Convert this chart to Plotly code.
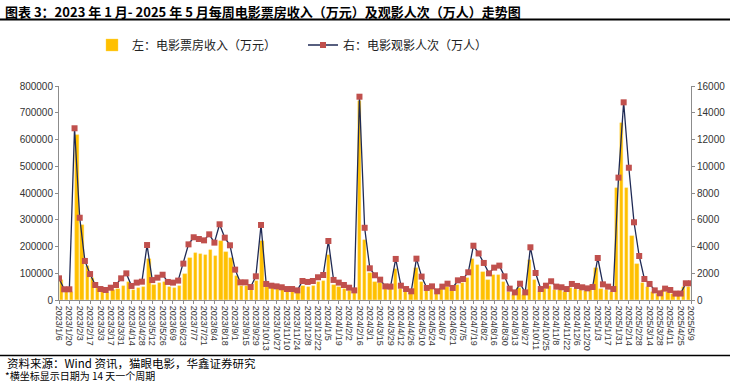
import plotly.graph_objects as go
import pandas as pd

# ---------------- data ----------------
weeks = [f"{d.year}/{d.month}/{d.day}" for d in pd.date_range("2023-01-06", periods=123, freq="7D")]

box_office = [  # 左：电影票房收入（万元）
    75000, 31000, 31000, 615000, 280000, 127000, 81000, 46000, 31000, 27000,
    37000, 41000, 54000, 67000, 37000, 46000, 50000, 153000, 56000, 62000,
    67000, 48000, 46000, 52000, 98000, 158000, 177000, 173000, 167000, 187000,
    166000, 220000, 181000, 158000, 90000, 54000, 54000, 36000, 71000, 220000,
    48000, 44000, 41000, 40000, 35000, 35000, 29000, 53000, 50000, 53000,
    66000, 72000, 168000, 56000, 50000, 41000, 35000, 27000, 745000, 224000,
    100000, 68000, 62000, 41000, 41000, 115000, 43000, 31000, 25000, 118000,
    68000, 34000, 41000, 25000, 41000, 47000, 34000, 56000, 62000, 81000,
    153000, 131000, 103000, 75000, 93000, 93000, 66000, 31000, 19000, 44000,
    19000, 150000, 75000, 29000, 41000, 52000, 37000, 37000, 30000, 45000,
    41000, 37000, 34000, 37000, 121000, 42000, 37000, 30000, 420000, 663000,
    420000, 240000, 133000, 65000, 50000, 31000, 22000, 37000, 31000, 22000,
    22000, 50000, 50000,
]

attendance = [  # 右：电影观影人次（万人）
    1620, 800, 800, 12840, 6150, 2920, 1940, 1120, 820, 750,
    920, 1120, 1620, 1990, 1050, 1300, 1370, 4110, 1490, 1670,
    1890, 1350, 1300, 1450, 2720, 4160, 4690, 4560, 4460, 4910,
    4290, 5660, 4660, 4090, 2270, 1320, 1320, 970, 1770, 5610,
    1200, 1070, 1020, 950, 820, 820, 720, 1420, 1350, 1420,
    1700, 1870, 4410, 1500, 1300, 1120, 920, 720, 15200, 5400,
    2370, 1850, 1520, 1020, 1000, 3070, 1070, 820, 650, 3090,
    1750, 900, 1020, 650, 1000, 1220, 900, 1470, 1570, 2070,
    4060, 3480, 2770, 1990, 2420, 2570, 1770, 850, 570, 1220,
    570, 3940, 2020, 820, 1070, 1400, 1000, 950, 820, 1200,
    1050, 950, 870, 970, 3140, 1170, 1000, 820, 9150, 14780,
    9890, 5810, 3290, 1570, 1200, 720, 500, 850, 750, 480,
    480, 1250, 1250,
]

tick_labels = weeks[::2]

title_text = "图表 3：2023 年 1 月- 2025 年 5 月每周电影票房收入（万元）及观影人次（万人）走势图"
source_text = "资料来源：Wind 资讯，猫眼电影，华鑫证券研究"
note_text = "*横坐标显示日期为 14 天一个周期"

# ---------------- figure ----------------
W, H = 730, 382
L, R, T, B = 59, 39, 86, 82
pw, ph = W - L - R, H - T - B

def px(x):
    return (x - L) / pw

def py(y):
    return (H - B - y) / ph

idx = list(range(len(weeks)))

fig = go.Figure()
fig.add_trace(go.Bar(
    x=idx, y=box_office, name="左：电影票房收入（万元）",
    marker=dict(color="#FFC000", line=dict(color="#FFD54F", width=0.4)),
    width=0.64, xaxis="x", yaxis="y",
))
fig.add_trace(go.Scatter(
    x=idx, y=attendance, name="右：电影观影人次（万人）",
    mode="lines+markers",
    line=dict(color="#1F2A55", width=1.3),
    marker=dict(symbol="square", size=6, color="#C0504D"),
    xaxis="x2", yaxis="y2",
))

axis_font = dict(family="Liberation Sans, Arial", size=10, color="#333333")

fig.update_layout(
    width=W, height=H,
    margin=dict(l=L, r=R, t=T, b=B, autoexpand=False),
    paper_bgcolor="white", plot_bgcolor="white",
    bargap=0,
    showlegend=True,
    legend=dict(
        orientation="h", x=px(92), y=py(45), xanchor="left", yanchor="middle",
        font=dict(family="Noto Sans CJK SC", size=12, color="#222222"),
        entrywidth=166, entrywidthmode="pixels",
        itemwidth=30, bgcolor="rgba(0,0,0,0)", borderwidth=0,
    ),
    xaxis=dict(
        range=[-0.5, len(weeks) - 0.5], showticklabels=False, ticks="",
        showline=False, showgrid=False, zeroline=False, fixedrange=True,
    ),
    xaxis2=dict(
        overlaying="x", anchor="y2", side="bottom",
        range=[0, len(weeks) - 1],
        tickmode="array", tickvals=idx[::2], ticktext=tick_labels,
        tickangle=90, tickfont=dict(family="Liberation Sans, Arial", size=9, color="#333333"),
        ticks="outside", ticklen=3, tickcolor="#8c8c8c",
        showline=True, linecolor="#8c8c8c", linewidth=1,
        showgrid=False, zeroline=False,
    ),
    yaxis=dict(
        range=[0, 800000], dtick=100000, tickformat="d",
        tickfont=axis_font, ticks="outside", ticklen=3, tickcolor="#8c8c8c",
        showline=True, linecolor="#8c8c8c", linewidth=1,
        showgrid=False, zeroline=False,
    ),
    yaxis2=dict(
        overlaying="y", side="right", anchor="x2",
        range=[0, 16000], dtick=2000, tickformat="d",
        tickfont=axis_font, ticks="outside", ticklen=3, tickcolor="#8c8c8c",
        showline=True, linecolor="#8c8c8c", linewidth=1,
        showgrid=False, zeroline=False,
    ),
)

fig.add_annotation(
    text=f"<b>{title_text}</b>", xref="paper", yref="paper",
    x=px(3), y=py(11), xanchor="left", yanchor="middle", showarrow=False,
    font=dict(family="Noto Sans CJK SC", size=13, color="#000000"),
)
fig.add_annotation(
    text=source_text, xref="paper", yref="paper",
    x=px(5), y=py(363), xanchor="left", yanchor="middle", showarrow=False,
    font=dict(family="Noto Sans CJK SC", size=11.5, color="#000000"),
)
fig.add_annotation(
    text=note_text, xref="paper", yref="paper",
    x=px(3), y=py(375), xanchor="left", yanchor="middle", showarrow=False,
    font=dict(family="Noto Sans CJK SC", size=10, color="#000000"),
)
fig.add_shape(type="line", xref="paper", yref="paper",
              x0=px(0), x1=px(W), y0=py(19.5), y1=py(19.5),
              line=dict(color="#000000", width=2))
fig.add_shape(type="line", xref="paper", yref="paper",
              x0=px(0), x1=px(W), y0=py(355.5), y1=py(355.5),
              line=dict(color="#000000", width=1.5))

fig.write_html(
    "out.html",
    config={"displayModeBar": False},
    post_script="document.body.style.margin='0';document.body.style.padding='0';",
)
